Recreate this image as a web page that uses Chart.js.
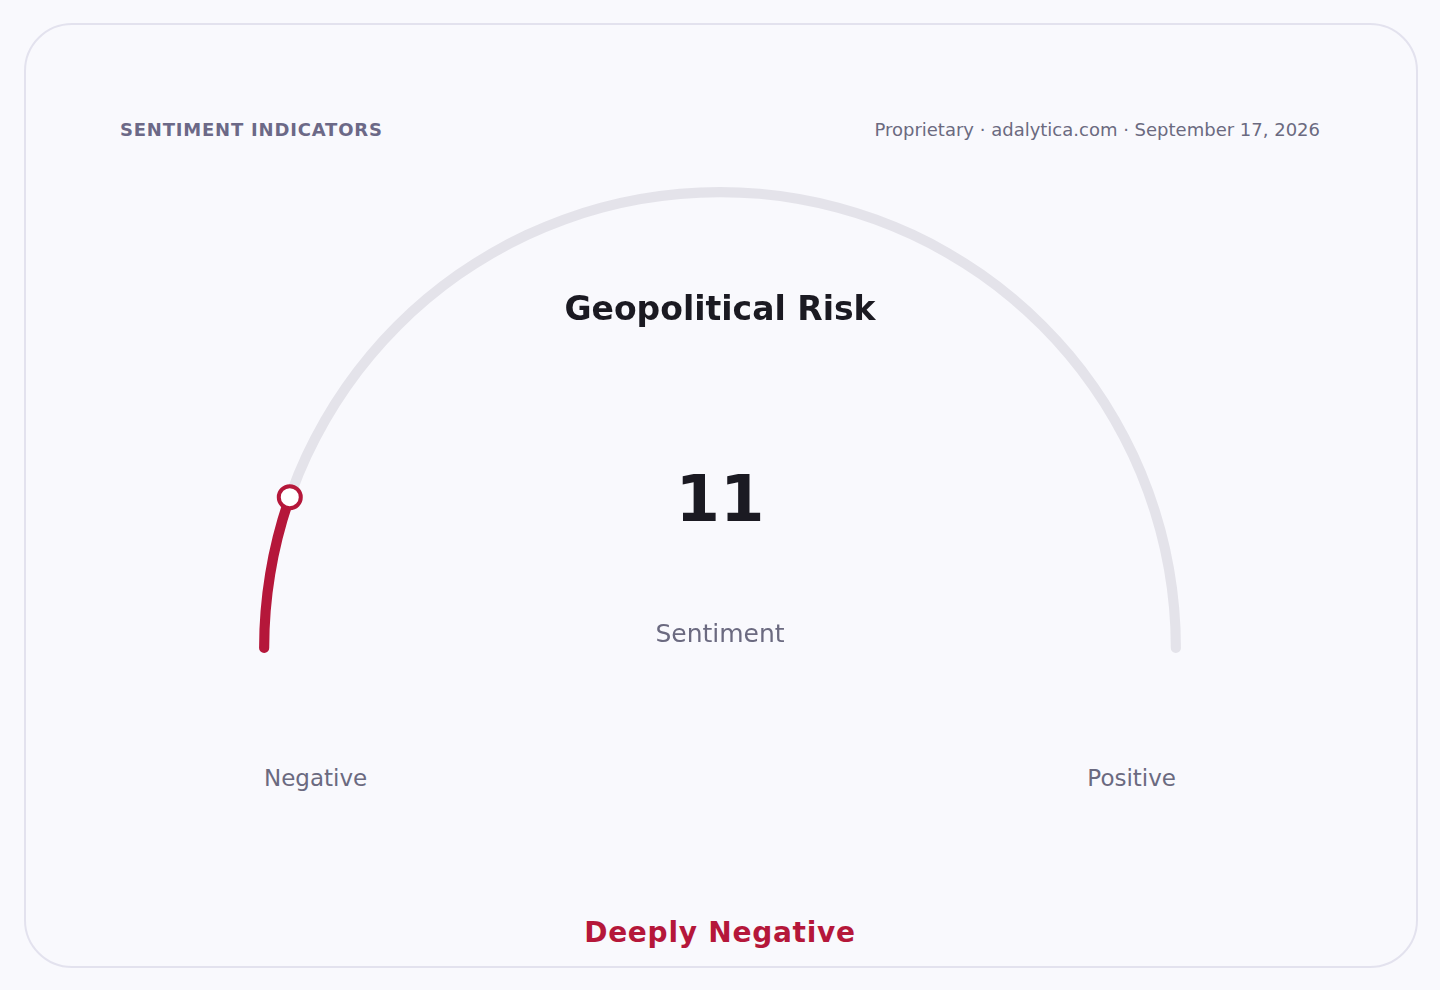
<!DOCTYPE html>
<html>
<head>
<meta charset="utf-8">
<script src="https://cdn.jsdelivr.net/npm/chart.js@4/dist/chart.umd.min.js"></script>
<style>
  html, body { margin: 0; padding: 0; background: #f9f9fd; font-family: "DejaVu Sans", sans-serif; }
  .card {
    position: absolute; left: 24px; top: 23px; width: 1390px; height: 941px;
    border: 2px solid #e3e2ee; border-radius: 48px; background: #f9f9fd;
  }
  .txt { position: absolute; white-space: nowrap; }
  #kicker { left: 120px; top: 119px; font-size: 18px; font-weight: bold; color: #6c6987; letter-spacing: 0.8px; }
  #source { right: 120px; top: 119px; font-size: 18px; color: #6b6a80; }
  #title { left: 0; width: 1440px; text-align: center; top: 289px; font-size: 33px; font-weight: bold; color: #1b1a22; }
  #value { left: 0; width: 1440px; text-align: center; top: 462px; font-size: 64px; font-weight: bold; color: #1b1a22; }
  #sub { left: 0; width: 1440px; text-align: center; top: 619px; font-size: 25px; color: #6b6a80; }
  #neg { left: 264px; top: 765px; font-size: 23px; color: #6b6a80; }
  #pos { right: 264px; top: 765px; font-size: 23px; color: #6b6a80; }
  #verdict { left: 0; width: 1440px; text-align: center; top: 916px; font-size: 28px; font-weight: bold; color: #b5173a; letter-spacing: 0.75px; }
  #wrap { position: absolute; left: 240px; top: 170px; width: 960px; height: 500px; }
</style>
</head>
<body>
<div class="card"></div>
<div class="txt" id="kicker">SENTIMENT INDICATORS</div>
<div class="txt" id="source">Proprietary · adalytica.com · September 17, 2026</div>
<div id="wrap"><canvas id="gauge"></canvas></div>
<div class="txt" id="title">Geopolitical Risk</div>
<div class="txt" id="value">11</div>
<div class="txt" id="sub">Sentiment</div>
<div class="txt" id="neg">Negative</div>
<div class="txt" id="pos">Positive</div>
<div class="txt" id="verdict">Deeply Negative</div>

<script>
// gauge data
const gaugeMin = 0;
const gaugeMax = 100;
const gaugeValue = 11;
const gaugeLabels = ['Sentiment', 'Remaining'];
const gaugeColors = ['#b5173a', '#e4e3ea'];

// round caps sit past the ends of the arc, so widen it a touch
const capDeg = 0.63;

const markerPlugin = {
  id: 'marker',
  afterDatasetsDraw(chart) {
    const arc = chart.getDatasetMeta(0).data[0];
    if (!arc) return;
    const r = (arc.innerRadius + arc.outerRadius) / 2;
    const px = arc.x + Math.cos(arc.endAngle) * r;
    const py = arc.y + Math.sin(arc.endAngle) * r;
    const ctx = chart.ctx;
    ctx.save();
    ctx.beginPath();
    ctx.arc(px, py, 11, 0, Math.PI * 2);
    ctx.fillStyle = '#ffffff';
    ctx.fill();
    ctx.lineWidth = 4;
    ctx.strokeStyle = gaugeColors[0];
    ctx.stroke();
    ctx.restore();
  }
};

window.addEventListener('load', () => {
  const ctx = document.getElementById('gauge').getContext('2d');
  new Chart(ctx, {
    type: 'doughnut',
    data: {
      labels: gaugeLabels,
      datasets: [{
        data: [gaugeValue - gaugeMin, gaugeMax - gaugeValue],
        backgroundColor: gaugeColors,
        borderWidth: 0,
        borderRadius: 5,
      }],
    },
    options: {
      responsive: true,
      maintainAspectRatio: false,
      animation: false,
      rotation: -90 - capDeg,
      circumference: 180 + capDeg * 2,
      cutout: '97.8%',
      plugins: {
        legend: { display: false },
        tooltip: { enabled: false },
      },
      layout: {
        padding: { left: 19, right: 19, top: 17, bottom: 17 },
      },
    },
    plugins: [markerPlugin],
  });
});
</script>
</body>
</html>
